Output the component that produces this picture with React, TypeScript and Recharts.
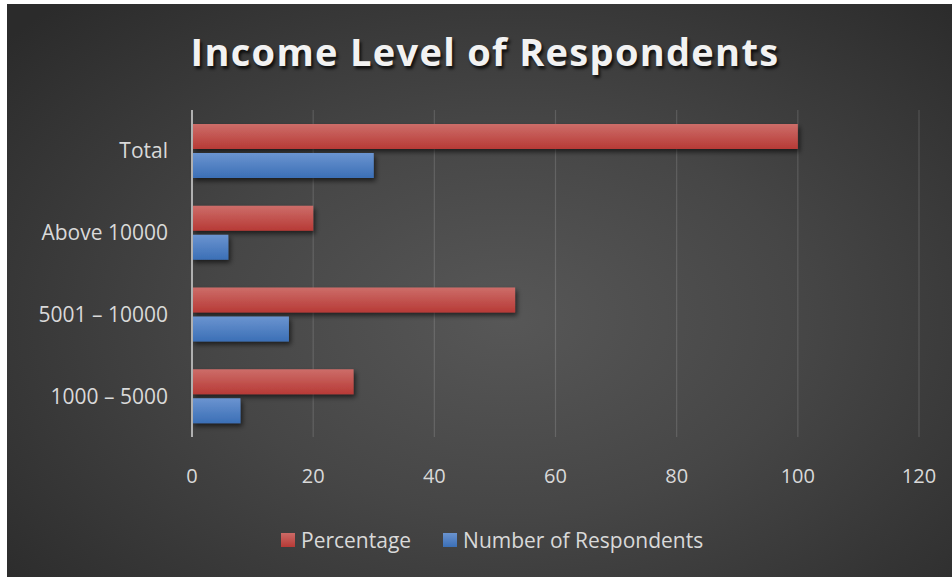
import React from 'react';
import { BarChart, Bar, XAxis, YAxis, CartesianGrid, Legend } from 'recharts';

const categories = ['Total', 'Above 10000', '5001 – 10000', '1000 – 5000'];
const percentage = [100, 20, 53.33, 26.67];
const respondents = [30, 6, 16, 8];
const xTicks = [0, 20, 40, 60, 80, 100, 120];
const seriesNames = ['Percentage', 'Number of Respondents'];

const data = categories.map((c, i) => ({ name: c, pct: percentage[i], num: respondents[i] }));

const FONT = '"Open Sans", "Noto Sans", sans-serif';
const TEXT = '#d9d9d9';

const LegendContent = () => (
  <div style={{ display: 'flex', alignItems: 'center', fontFamily: FONT, fontSize: 21, color: TEXT, paddingLeft: 281 }}>
    <span style={{ width: 14, height: 14, background: 'linear-gradient(#cc6a66,#b73a36)', display: 'inline-block', marginRight: 6 }} />
    <span style={{ marginRight: 32 }}>{seriesNames[0]}</span>
    <span style={{ width: 14, height: 14, background: 'linear-gradient(#6a93cf,#3b6fb6)', display: 'inline-block', marginRight: 6 }} />
    <span>{seriesNames[1]}</span>
  </div>
);

export default function App() {
  return (
    <div style={{ position: 'absolute', left: 0, top: 0, width: 952, height: 577, background: '#ffffff', overflow: 'hidden' }}>
      <div style={{ position: 'absolute', left: 7, top: 4, width: 945, height: 573, background: 'radial-gradient(ellipse 70% 75% at 53% 55%, #575757 0%, #464646 45%, #2b2b2b 100%)' }} />
      <div style={{ position: 'absolute', left: 0, top: 25, width: 970, textAlign: 'center', fontFamily: FONT, fontWeight: 700, fontSize: 38, letterSpacing: 1.3, color: '#f2f2f2', textShadow: '2px 3px 3px rgba(0,0,0,0.75)' }}>
        Income Level of Respondents
      </div>
      <div style={{ position: 'absolute', left: 0, top: 0 }}>
        <BarChart width={952} height={577} data={data} layout="vertical" margin={{ top: 110, right: 33, bottom: 110, left: 0 }} barSize={25} barGap={4}>
          <defs>
            <linearGradient id="gRed" x1="0" y1="0" x2="0" y2="1">
              <stop offset="0%" stopColor="#cd6d69" />
              <stop offset="100%" stopColor="#b73a36" />
            </linearGradient>
            <linearGradient id="gBlue" x1="0" y1="0" x2="0" y2="1">
              <stop offset="0%" stopColor="#6b94d0" />
              <stop offset="100%" stopColor="#3b6fb6" />
            </linearGradient>
            <filter id="shadow" x="-10%" y="-30%" width="130%" height="190%">
              <feDropShadow dx="2" dy="3" stdDeviation="2.5" floodColor="#000" floodOpacity="0.6" />
            </filter>
          </defs>
          <CartesianGrid horizontal={false} vertical stroke="#ffffff" strokeOpacity={0.14} strokeWidth={1.2} />
          <XAxis type="number" domain={[0, 120]} ticks={xTicks} axisLine={false} tickLine={false} tickSize={0} tickMargin={32}
            tick={{ fill: TEXT, fontSize: 20, fontFamily: FONT }} interval={0} />
          <YAxis type="category" dataKey="name" width={192} axisLine={{ stroke: '#b0b0b0', strokeWidth: 2 }} tickLine={false} tickSize={0} tickMargin={24}
            tick={{ fill: TEXT, fontSize: 21, fontFamily: FONT }} interval={0} />
          <Legend layout="horizontal" verticalAlign="middle" align="center" wrapperStyle={{ position: 'absolute', left: 0, top: 526, width: 952 }} content={LegendContent} />
          <Bar dataKey="pct" name={seriesNames[0]} fill="url(#gRed)" filter="url(#shadow)" isAnimationActive={false} />
          <Bar dataKey="num" name={seriesNames[1]} fill="url(#gBlue)" filter="url(#shadow)" isAnimationActive={false} />
        </BarChart>
      </div>
    </div>
  );
}
